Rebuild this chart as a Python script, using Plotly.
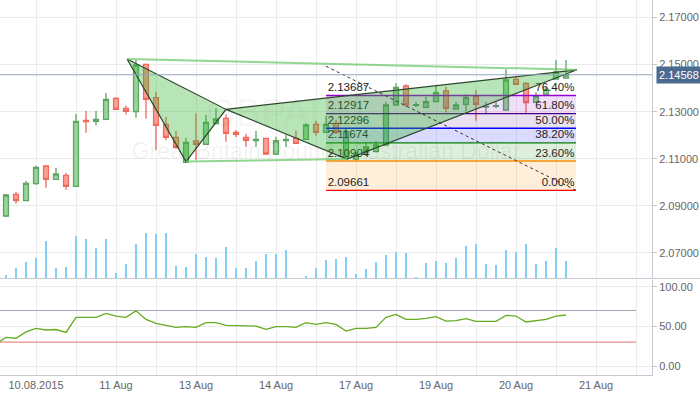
import plotly.graph_objects as go

# ---------------- data ----------------
idx = list(range(57))
opens = [2.08571, 2.09493, 2.09221, 2.09943, 2.10694, 2.10129, 2.10299, 2.09832, 2.12635, 2.12592,
         2.12677, 2.13569, 2.13144, 2.13000, 2.15013, 2.13594, 2.12465, 2.11913, 2.10851, 2.11756,
         2.11616, 2.12499, 2.12720, 2.12125, 2.11913, 2.11777, 2.11871, 2.11204, 2.11777, 2.11871,
         2.11828, 2.12465, 2.12125, 2.12507, 2.11021, 2.10992, 2.11289, 2.11301, 2.11586, 2.13285,
         2.14091, 2.13272, 2.13187, 2.13425, 2.13879, 2.13115, 2.13314, 2.13637, 2.13199, 2.13229,
         2.13072, 2.14376, 2.14206, 2.13399, 2.13739, 2.14388, 2.14431]
highs = [2.09505, 2.09603, 2.10057, 2.10694, 2.10737, 2.10609, 2.10397, 2.12902, 2.13030, 2.13030,
         2.13794, 2.13624, 2.13263, 2.15195, 2.15047, 2.13849, 2.12775, 2.12180, 2.11896, 2.12932,
         2.12860, 2.13144, 2.12881, 2.12223, 2.12066, 2.12180, 2.11883, 2.11938, 2.12011, 2.12193,
         2.12507, 2.12605, 2.12830, 2.12648, 2.12308, 2.11289, 2.11713, 2.11756, 2.13425, 2.14206,
         2.14163, 2.13425, 2.13624, 2.14134, 2.14062, 2.13425, 2.13739, 2.13921, 2.13425, 2.13425,
         2.14800, 2.14486, 2.14261, 2.13836, 2.14091, 2.15195, 2.15195]
lows = [2.08529, 2.09093, 2.09221, 2.09900, 2.09773, 2.10129, 2.09688, 2.09832, 2.12108, 2.12423,
        2.12677, 2.13102, 2.12881, 2.12745, 2.12703, 2.11374, 2.11798, 2.11416, 2.10851, 2.10949,
        2.11586, 2.12499, 2.11726, 2.11926, 2.11514, 2.11514, 2.11161, 2.11161, 2.11501, 2.11658,
        2.11828, 2.11981, 2.12125, 2.12053, 2.10949, 2.10949, 2.11119, 2.11301, 2.11586, 2.13285,
        2.13199, 2.13199, 2.13144, 2.13425, 2.12975, 2.13115, 2.13030, 2.12618, 2.12890, 2.13144,
        2.13072, 2.14134, 2.12958, 2.13399, 2.13739, 2.14388, 2.14431]
closes = [2.09463, 2.09221, 2.09960, 2.10639, 2.10129, 2.10355, 2.09832, 2.12592, 2.12575, 2.12677,
          2.13527, 2.13102, 2.13017, 2.14983, 2.13527, 2.12415, 2.11913, 2.11488, 2.11701, 2.11616,
          2.12550, 2.12690, 2.12083, 2.12040, 2.11786, 2.11820, 2.11204, 2.11769, 2.11820, 2.11658,
          2.12435, 2.12125, 2.12465, 2.12125, 2.12151, 2.11161, 2.11501, 2.11586, 2.13285, 2.14036,
          2.13285, 2.13298, 2.13425, 2.13807, 2.13144, 2.13285, 2.13611, 2.13314, 2.13229, 2.13255,
          2.14346, 2.14163, 2.13382, 2.13667, 2.13951, 2.14685, 2.14568]
volume = [300, 1000, 1600, 2000, 3700, 1000, 1100, 4200, 3900, 3000,
          3900, 500, 1400, 3400, 4500, 4400, 4500, 1200, 1100, 2400,
          2100, 2000, 3100, 1000, 1000, 1700, 2400, 2400, 2800, 0,
          200, 1000, 1800, 1900, 2100, 400, 900, 1600, 2300, 2600,
          2500, 100, 1500, 1700, 1500, 2000, 3200, 3400, 1400, 1300,
          2800, 2600, 3400, 1400, 1700, 3000, 1700]
rsi_x = list(range(-1, 57))
rsi = [28, 36, 35, 43, 47.5, 45.4, 46, 42.4, 61.3, 61.3, 61.3, 66.4, 63, 61.3, 69.7, 58.8,
       53.8, 51.3, 48.7, 49.6, 48.7, 54.6, 54.6, 51.3, 51.3, 50.4, 50.4, 46.2, 49.6, 49.6,
       48.7, 54.6, 52.5, 54.6, 52.5, 44.1, 47.5, 47.5, 48.7, 61.3, 65.1, 58.8, 58.8, 60,
       62.2, 56.7, 57.1, 59.7, 56.3, 56.3, 56.3, 63.9, 63, 55.5, 57.6, 58.8, 63, 64.3]
rsi_upper, rsi_lower = 70, 30

x_label_vals = [3, 11, 19, 27, 35, 43, 51, 59]
x_labels = ["10.08.2015", "11 Aug", "13 Aug", "14 Aug", "17 Aug", "19 Aug", "20 Aug", "21 Aug"]
price_ticks = [2.07, 2.09, 2.11, 2.13, 2.15, 2.17]
rsi_ticks = [0, 50, 100]

fib_x = [32, 57]
fib_pcts = ["0.00%", "23.60%", "38.20%", "50.00%", "61.80%", "76.40%"]
fib_prices = [2.09661, 2.10904, 2.11674, 2.12296, 2.12917, 2.13687]
fib_top = 2.14931
fib_line_colors = ["#ff0000", "#ff8c00", "#008000", "#0000ff", "#4b0082", "#9400d3"]
fib_fill_colors = ["rgba(255,140,0,0.15)", "rgba(0,128,0,0.13)", "rgba(0,0,255,0.14)",
                   "rgba(75,0,130,0.12)", "rgba(148,0,211,0.13)"]

pat_x = [12.1, 18.0, 22.0, 34.1, 57.1]          # X, A, B, C, D
pat_y = [2.1524, 2.1088, 2.1310, 2.1099, 2.1478]
last_price = 2.14568

XR = [-0.6, 64.6]

fig = go.Figure()

# watermark
fig.add_trace(go.Scatter(x=[27.9], y=[2.1278], mode="text", text=["GBPAUD"],
                         textfont=dict(size=38, color="rgba(0,0,0,0.045)", family="Liberation Sans"),
                         hoverinfo="skip"))
fig.add_trace(go.Scatter(x=[32], y=[2.1123], mode="text",
                         text=["Great Britain Pound / Australian Dollar"],
                         textfont=dict(size=23, color="rgba(0,0,0,0.06)", family="Liberation Sans"),
                         hoverinfo="skip"))

# volume
fig.add_trace(go.Bar(x=idx, y=volume, width=0.15, marker=dict(color="#7fcff6", line=dict(width=0)),
                     yaxis="y3", xaxis="x", hoverinfo="skip"))

# fib bands
for k in range(5):
    lo, hi = fib_prices[k], fib_prices[k + 1]
    fig.add_trace(go.Scatter(x=[fib_x[0], fib_x[1], fib_x[1], fib_x[0], fib_x[0]],
                             y=[lo, lo, hi, hi, lo], fill="toself", mode="none",
                             fillcolor=fib_fill_colors[k], hoverinfo="skip"))
for k in range(6):
    fig.add_trace(go.Scatter(x=fib_x, y=[fib_prices[k]] * 2, mode="lines",
                             line=dict(color=fib_line_colors[k], width=1.4), hoverinfo="skip"))
fig.add_trace(go.Scatter(x=[fib_x[0]] * 6, y=fib_prices, mode="text+markers",
                         marker=dict(size=1, opacity=0),
                         text=["%.5f" % p for p in fib_prices], textposition="top right",
                         textfont=dict(size=11.5, color="#222", family="Liberation Sans"), hoverinfo="skip"))
fig.add_trace(go.Scatter(x=[fib_x[1]] * 6, y=fib_prices, mode="text+markers",
                         marker=dict(size=1, opacity=0),
                         text=fib_pcts, textposition="top left",
                         textfont=dict(size=11.5, color="#222", family="Liberation Sans"), hoverinfo="skip"))

# candles
fig.add_trace(go.Candlestick(x=idx, open=opens, high=highs, low=lows, close=closes,
                             increasing=dict(fillcolor="#97d59b", line=dict(color="#5ea463", width=1.3)),
                             decreasing=dict(fillcolor="#f9a094", line=dict(color="#f0695a", width=1.3)),
                             hoverinfo="skip"))

# harmonic pattern triangles
tri_fill = "rgba(50,180,50,0.35)"
edge = dict(color="#2c462c", width=1.2)
for a, b, c in [(0, 1, 2), (2, 3, 4)]:
    fig.add_trace(go.Scatter(x=[pat_x[a], pat_x[b], pat_x[c], pat_x[a]],
                             y=[pat_y[a], pat_y[b], pat_y[c], pat_y[a]],
                             fill="toself", fillcolor=tri_fill, mode="lines", line=edge,
                             hoverinfo="skip"))
for a, b in [(0, 4), (1, 3)]:
    fig.add_trace(go.Scatter(x=[pat_x[a], pat_x[b]], y=[pat_y[a], pat_y[b]], mode="lines",
                             line=dict(color="rgba(110,200,110,0.75)", width=2), hoverinfo="skip"))

# fib diagonal
fig.add_trace(go.Scatter(x=fib_x, y=[fib_top, fib_prices[0]], mode="lines",
                         line=dict(color="#333", width=1, dash="3px,3px"), hoverinfo="skip"))

# last price line
fig.add_trace(go.Scatter(x=XR, y=[last_price, last_price], mode="lines",
                         line=dict(color="#94a8bf", width=1), hoverinfo="skip"))

# RSI panel
fig.add_trace(go.Scatter(x=[XR[0], 63], y=[rsi_upper] * 2, mode="lines", xaxis="x2", yaxis="y2",
                         line=dict(color="#9eaab6", width=1.2), hoverinfo="skip"))
fig.add_trace(go.Scatter(x=[XR[0], 63], y=[rsi_lower] * 2, mode="lines", xaxis="x2", yaxis="y2",
                         line=dict(color="#e68c8c", width=1.2), hoverinfo="skip"))
fig.add_trace(go.Scatter(x=rsi_x, y=rsi, mode="lines", xaxis="x2", yaxis="y2",
                         line=dict(color="#66aa22", width=1.3), hoverinfo="skip"))

grid_vals = list(range(3, 64, 4))
grid_text = [x_labels[x_label_vals.index(v)] if v in x_label_vals else "" for v in grid_vals]

axis_col = "#c3cad2"
grid_col = "#ebebeb"
dom_x = [0, 652 / 700]

fig.update_layout(
    width=700, height=394, margin=dict(l=0, r=0, t=0, b=0),
    paper_bgcolor="white", plot_bgcolor="white", showlegend=False,
    font=dict(family="Liberation Sans, Arial", size=11, color="#666"),
    xaxis=dict(domain=dom_x, range=XR, anchor="y", tickvals=grid_vals, showticklabels=False,
               showgrid=True, gridcolor=grid_col, zeroline=False, ticks="",
               rangeslider=dict(visible=False)),
    yaxis=dict(domain=[1 - 278 / 394, 1], range=[2.05938, 2.17743], side="right", anchor="x",
               tickvals=price_ticks, tickformat=".5f", showgrid=True, gridcolor=grid_col,
               zeroline=False, showline=True, linecolor=axis_col, ticks="outside", ticklen=4,
               tickcolor=axis_col),
    yaxis3=dict(overlaying="y", anchor="x", range=[0, 27800], visible=False),
    xaxis2=dict(domain=dom_x, range=XR, anchor="y2", tickvals=grid_vals, ticktext=grid_text,
                showgrid=True, gridcolor=grid_col, zeroline=False, ticks="", showline=True,
                linecolor=axis_col),
    yaxis2=dict(domain=[1 - 375 / 394, 1 - 280 / 394], range=[-11.3, 108.4], side="right",
                anchor="x2", tickvals=rsi_ticks, tickformat=".2f", showgrid=True, gridcolor=grid_col,
                zeroline=False, showline=True, linecolor=axis_col, ticks="outside", ticklen=4,
                tickcolor=axis_col),
    shapes=[dict(type="line", xref="paper", yref="paper", x0=0, x1=1,
                 y0=1 - 278.5 / 394, y1=1 - 278.5 / 394, line=dict(color=axis_col, width=1))],
    annotations=[dict(xref="paper", yref="y", x=656 / 700, y=last_price, xanchor="left",
                      yanchor="middle", text="%.5f" % last_price, showarrow=False,
                      bgcolor="#4b6a8f", borderpad=2,
                      font=dict(color="white", size=11, family="Liberation Sans"))],
)

fig.write_html("out.html")
